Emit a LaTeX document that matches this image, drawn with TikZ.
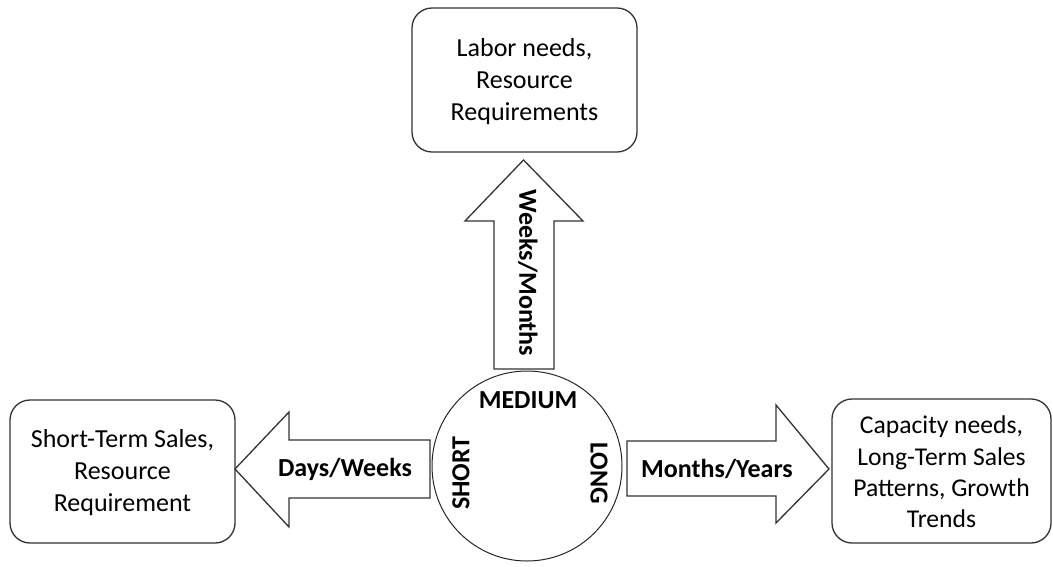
\documentclass[tikz,border=0pt]{standalone}
\usepackage{fontspec}
\setmainfont{Carlito}
\begin{document}
\begin{tikzpicture}[x=1pt,y=-1pt,
  edge/.style={draw=black!80,line width=1.3pt,line join=miter},
  box/.style={draw=black!80,line width=1.3pt,rounded corners=20pt,fill=white},
  boxtext/.style={align=center,inner sep=0pt,font=\fontsize{26}{32}\selectfont},
  lbl/.style={font=\bfseries\fontsize{26}{30}\selectfont,inner sep=0pt}]
\useasboundingbox (0,0) rectangle (1053,566);
% boxes
\draw[box] (412,8) rectangle (637,152);
\node[boxtext] (top) at (524.5,82) {Labor needs,\\Resource\\Requirements};
\draw[box] (10,400) rectangle (235,543);
\node[boxtext] (left) at (122.5,473) {Short-Term Sales,\\Resource\\Requirement};
\draw[box] (832,399) rectangle (1051,543);
\node[boxtext,font=\fontsize{25.6}{31.3}\selectfont] (right) at (941.5,472) {Capacity needs,\\Long-Term Sales\\Patterns, Growth\\Trends};
% circle
\node[circle,draw=black!85,line width=1pt,minimum size=190pt,inner sep=0pt] (c) at (527,466) {};
\node[lbl] (med) at (528,400) {MEDIUM};
\node[lbl,rotate=90] (short) at (461,473) {SHORT};
\node[lbl,rotate=-90] (long) at (599,473) {LONG};
% up arrow
\draw[edge,fill=white] (494,369) -- (494,221) -- (465,221) -- (523.5,160) -- (583,221) -- (554,221) -- (554,369) -- cycle;
\node[lbl,rotate=-90] (wm) at (528,273) {Weeks/Months};
% left arrow
\draw[edge,fill=white] (430,440) -- (289,440) -- (289,412) -- (235,469) -- (289,527) -- (289,498) -- (430,498) -- cycle;
\node[lbl] (dw) at (345,469) {Days/Weeks};
% right arrow
\draw[edge,fill=white] (627,441) -- (776,441) -- (776,405) -- (829,469) -- (776,523) -- (776,496) -- (627,496) -- cycle;
\node[lbl] (my) at (717,469) {Months/Years};
\end{tikzpicture}
\end{document}
